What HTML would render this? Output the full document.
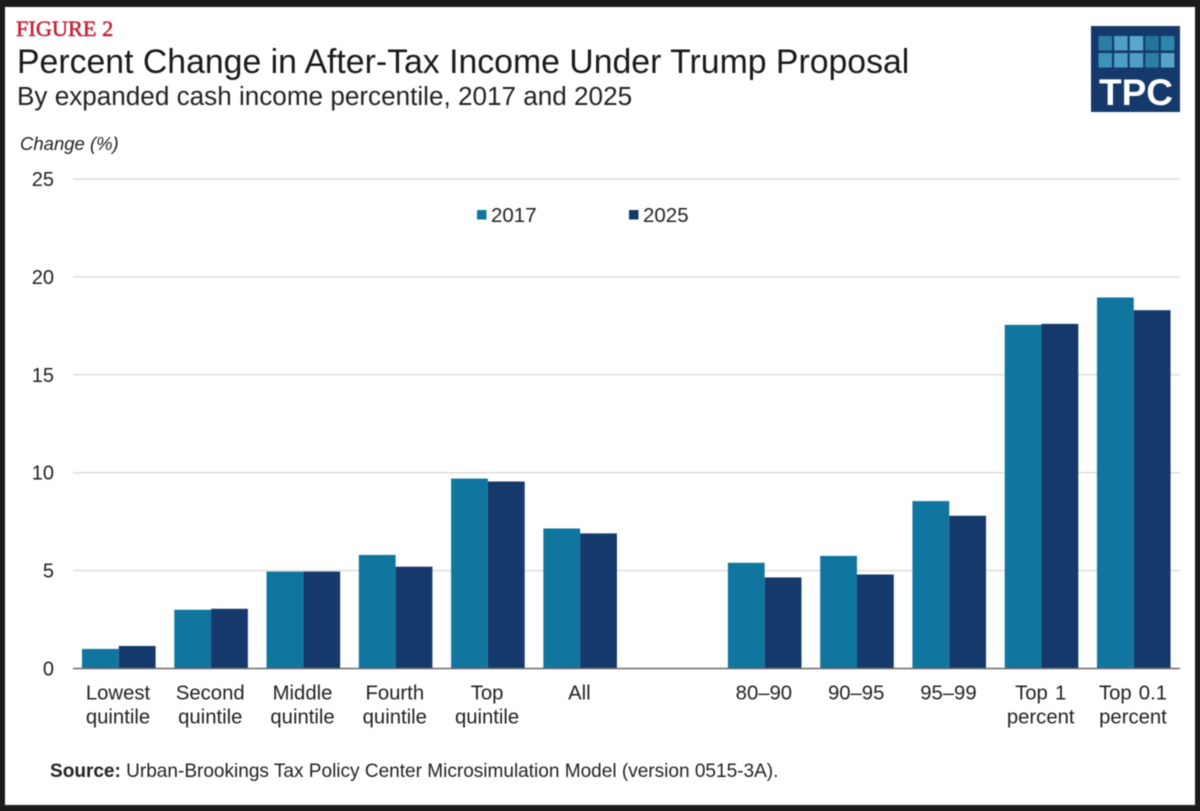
<!DOCTYPE html>
<html lang="en">
<head>
<meta charset="utf-8">
<title>Percent Change in After-Tax Income Under Trump Proposal</title>
<style>
html,body{margin:0;padding:0;background:#1b1b1b;}
body{width:1200px;height:811px;overflow:hidden;}
svg{display:block;filter:blur(0.45px);}
text{font-family:"Liberation Sans",sans-serif;fill:#222;}
</style>
</head>
<body>
<svg id="chart" width="1200" height="811" viewBox="0 0 1200 811" xmlns="http://www.w3.org/2000/svg">
  <rect x="0" y="0" width="1200" height="811" fill="#1b1b1b"/>
  <rect x="5" y="7" width="1190" height="798" fill="#ffffff"/>
  <text x="16" y="36" style="font-family:'Liberation Serif',serif;font-size:22.3px;fill:#c4223b;font-weight:400;stroke:#c4223b;stroke-width:.55px">FIGURE 2</text>
  <text x="17" y="73" font-size="33.8" style="fill:#1a1a1a">Percent Change in After-Tax Income Under Trump Proposal</text>
  <text x="17" y="105" font-size="26.1">By expanded cash income percentile, 2017 and 2025</text>
  <text x="20" y="150" font-size="18.5" font-style="italic">Change (%)</text>
  <g id="grid"></g>
  <g id="bars"></g>
  <g id="labels"></g>
  <g>
    <rect x="477" y="210" width="9.5" height="9.5" fill="#10769f"/>
    <text x="491" y="222" font-size="20.5">2017</text>
    <rect x="629" y="210" width="9.5" height="9.5" fill="#14396a"/>
    <text x="643" y="222" font-size="20.5">2025</text>
  </g>
  <text x="50" y="777" font-size="19.05"><tspan font-weight="700">Source:</tspan> Urban-Brookings Tax Policy Center Microsimulation Model (version 0515-3A).</text>
  <g>
    <rect x="1091" y="26" width="89" height="86" fill="#14396a"/>
    <g id="logo-cells"></g>
    <text x="1136" y="105" text-anchor="middle" font-size="37" font-weight="700" style="fill:#ffffff">TPC</text>
  </g>
</svg>
<script>
const categories = [
  ["Lowest","quintile"],["Second","quintile"],["Middle","quintile"],["Fourth","quintile"],
  ["Top","quintile"],["All"],[],["80–90"],["90–95"],["95–99"],["Top 1","percent"],["Top 0.1","percent"]
];
const values2017 = [1.0,3.0,4.95,5.8,9.7,7.15,null,5.4,5.75,8.55,17.55,18.95];
const values2025 = [1.15,3.05,4.95,5.2,9.55,6.9,null,4.65,4.8,7.8,17.6,18.3];
const yTicks = [0,5,10,15,20,25];

const NS = "http://www.w3.org/2000/svg";
const PLOT = {x0:73, x1:1180, y0:668.5, y25:179, first:82, step:92.27, bar:36.8};
const yScale = v => PLOT.y0 - (v / 25) * (PLOT.y0 - PLOT.y25);
const xScale = i => PLOT.first + i * PLOT.step;

function make(tag, attrs, parent, text){
  const el = document.createElementNS(NS, tag);
  for (const k in attrs) el.setAttribute(k, attrs[k]);
  if (text !== undefined) el.textContent = text;
  parent.appendChild(el);
  return el;
}

const grid = document.getElementById("grid");
const bars = document.getElementById("bars");
const labels = document.getElementById("labels");

yTicks.forEach(t => {
  if (t !== 0) {
    const line = make("line", {x1:PLOT.x0, x2:PLOT.x1, y1:yScale(t), y2:yScale(t), stroke:"#dcdcdc", "stroke-width":1.4}, grid);
    
    
  }
  const lab = make("text", {x:54, y:yScale(t) + 7, "text-anchor":"end", "font-size":20}, labels, t);
  
  
});

function drawSeries(values, offset, color, key){
  values.forEach((v, i) => {
    if (v === null) return;
    const top = yScale(v);
    const r = make("rect", {x:xScale(i) + offset, y:top, width:PLOT.bar, height:PLOT.y0 - top, fill:color}, bars);
    
    
  });
}
drawSeries(values2017, 0, "#10769f", "2017");
drawSeries(values2025, PLOT.bar, "#14396a", "2025");

const axis = make("line", {x1:PLOT.x0, x2:PLOT.x1, y1:PLOT.y0, y2:PLOT.y0, stroke:"#6b6b6b", "stroke-width":1.6}, bars);



categories.forEach((lines, i) => {
  const cx = xScale(i) + PLOT.bar - 0.8;
  lines.forEach((s, j) => {
    const t = make("text", {x:cx, y:699.5 + j * 24, "text-anchor":"middle", "font-size":20.3, "word-spacing":1.5}, labels, s);
    
    
  });
});

const logoCells = document.getElementById("logo-cells");
const logoShades = [
  ["#2a7ea6","#4f9fc6","#5aa8cc","#23739d","#2d86ac"],
  ["#3b93ba","#4a9fc5","#4f9fc6","#2a7ea6","#55a5ca"]
];
logoShades.forEach((row, r) => row.forEach((c, k) => {
  const cell = make("rect", {x:1098.5 + k * 15.6, y:36 + r * 17, width:13.5, height:14.5, fill:c}, logoCells);
  
  
}));
</script>
</body>
</html>
